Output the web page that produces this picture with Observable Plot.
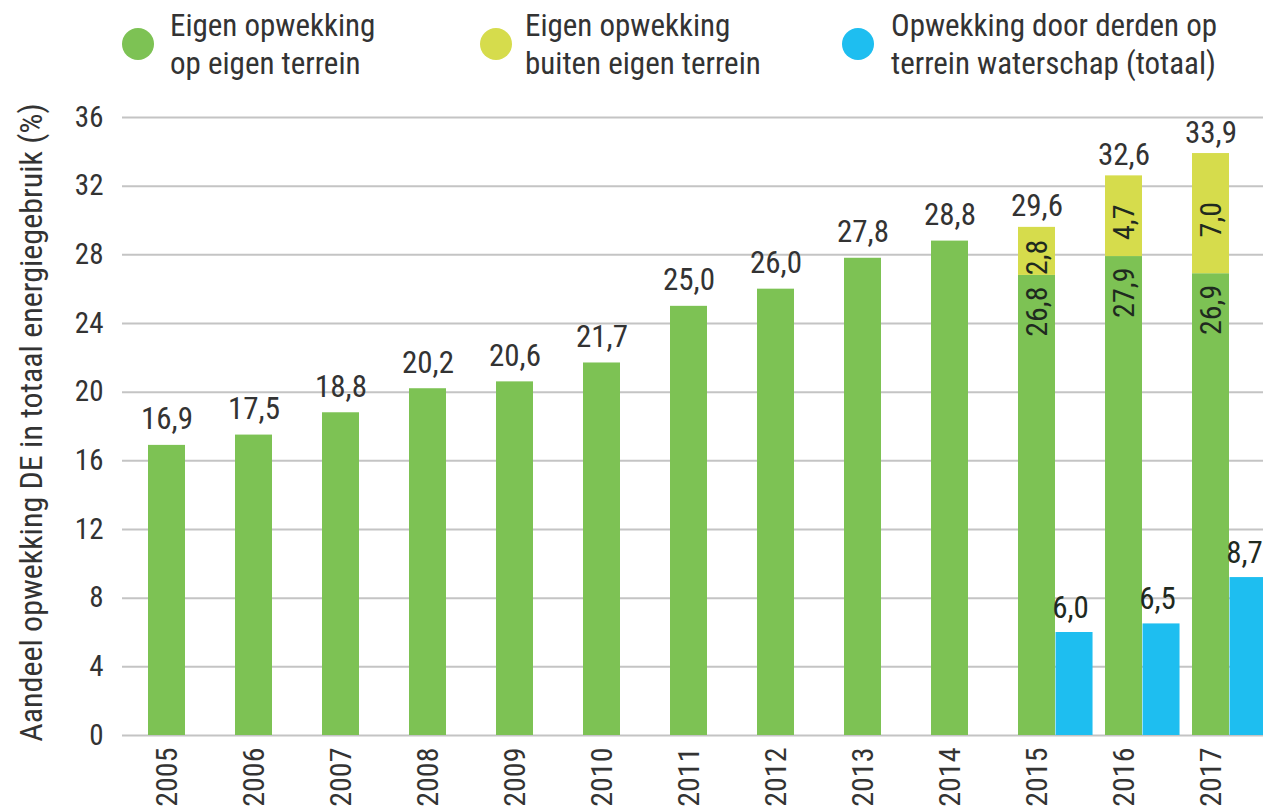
<!DOCTYPE html>
<html><head><meta charset="utf-8">
<script src="https://cdn.jsdelivr.net/npm/d3@7"></script>
<script src="https://cdn.jsdelivr.net/npm/@observablehq/plot@0.6"></script>
<style>
body{margin:0;background:#fff;font-family:"Roboto Condensed","Roboto",sans-serif;color:#333;}
#legend{position:relative;height:95px;width:1263px;}
.dot{position:absolute;width:32px;height:32px;border-radius:50%;}
.lbl{position:absolute;font-size:31px;line-height:38px;white-space:nowrap;}
#chart svg{display:block;overflow:visible;}
</style></head>
<body>
<div id="legend"></div>
<div id="chart"></div>
<script>
// ---- data ----
const years = ["2005","2006","2007","2008","2009","2010","2011","2012","2013","2014","2015","2016","2017"];
const eigenTerrein = [16.9,17.5,18.8,20.2,20.6,21.7,25.0,26.0,27.8,28.8,26.8,27.9,26.9];
const buitenTerrein = [null,null,null,null,null,null,null,null,null,null,2.8,4.7,7.0];
// bar heights as drawn in the picture (2017 bar is drawn taller than its "8,7" label)
const derden = [null,null,null,null,null,null,null,null,null,null,6.0,6.5,9.2];
const derdenLabels = ["","","","","","","","","","","6,0","6,5","8,7"];
const seriesNames = ["Eigen opwekking op eigen terrein","Eigen opwekking buiten eigen terrein","Opwekking door derden op terrein waterschap (totaal)"];
const legendLines = [["Eigen opwekking","op eigen terrein"],["Eigen opwekking","buiten eigen terrein"],["Opwekking door derden op","terrein waterschap (totaal)"]];
const seriesColors = ["#7dc254","#d6dc4c","#1ebef0"];
const yTicks = [0,4,8,12,16,20,24,28,32,36];
const yTitle = "Aandeel opwekking DE in totaal energiegebruik (%)";

// ---- legend ----
const legendPos = [{dot:138,text:170},{dot:496,text:525},{dot:858,text:891}];
const leg = document.getElementById("legend");
seriesNames.forEach((s,i)=>{
  const d=document.createElement("div");d.className="dot";
  d.style.left=(legendPos[i].dot-16)+"px";d.style.top="28px";d.style.background=seriesColors[i];
  leg.appendChild(d);
  const t=document.createElement("div");t.className="lbl";
  t.style.left=legendPos[i].text+"px";t.style.top="7px";
  t.innerHTML=legendLines[i].join("<br>");
  leg.appendChild(t);
});

// ---- tables ----
const fmt = v => v.toFixed(1).replace(".", ",");
const stackRows = [];
years.forEach((yr,i)=>{
  stackRows.push({year:yr, series:seriesNames[0], value:eigenTerrein[i]});
  if (buitenTerrein[i]!=null) stackRows.push({year:yr, series:seriesNames[1], value:buitenTerrein[i]});
});
const derdenRows = years.map((yr,i)=>({year:yr, series:seriesNames[2], value:derden[i], label:derdenLabels[i]})).filter(d=>d.value!=null);
const totalRows = years.map((yr,i)=>{const t=eigenTerrein[i]+(buitenTerrein[i]||0);return {year:yr,total:t,label:fmt(t),split:buitenTerrein[i]!=null};});
const greenInner = years.map((yr,i)=>({year:yr,value:eigenTerrein[i],label:fmt(eigenTerrein[i])})).filter((d,i)=>buitenTerrein[i]!=null);
const yellowInner = years.map((yr,i)=>({year:yr,mid:eigenTerrein[i]+(buitenTerrein[i]||0)/2,label:buitenTerrein[i]!=null?fmt(buitenTerrein[i]):""})).filter((d,i)=>buitenTerrein[i]!=null);

const W=1263, mL=122, mR=0, pI=0.57, pO=0.32;
const step=(W-mL-mR)/(years.length-pI+2*pO);
const bw=step*(1-pI);

const chart = Plot.plot({
  width:W, height:717, marginTop:22, marginBottom:77, marginLeft:mL, marginRight:mR,
  style:{fontFamily:"'Roboto Condensed', Roboto, sans-serif", fontSize:"30px", color:"#333", background:"transparent", overflow:"visible"},
  x:{type:"band", domain:years, paddingInner:pI, paddingOuter:pO, align:0.44},
  y:{domain:[0,36]},
  color:{domain:seriesNames, range:seriesColors},
  marks:[
    Plot.ruleY(yTicks,{stroke:"#c4c4c4", strokeWidth:2}),
    Plot.barY(stackRows,{x:"year", y:"value", fill:"series"}),
    Plot.barY(derdenRows,{x:"year", y:"value", fill:"series", dx:bw}),
    Plot.axisY({ticks:yTicks, tickSize:0, tickPadding:19, label:null, fontSize:29}),
    Plot.axisX({tickSize:0, tickPadding:12, tickRotate:-90, label:null, fontSize:30}),
    Plot.text(totalRows.filter(d=>!d.split),{x:"year", y:"total", text:"label", dy:-16, lineAnchor:"bottom", fontSize:31, fill:"#333"}),
    Plot.text(totalRows.filter(d=>d.split),{x:"year", y:"total", text:"label", dy:-11, lineAnchor:"bottom", fontSize:31, fill:"#333"}),
    Plot.text(greenInner,{x:"year", y:"value", text:"label", rotate:-90, textAnchor:"end", dy:11, fontSize:30, fill:"#1f2a1f"}),
    Plot.text(yellowInner,{x:"year", y:"mid", text:"label", rotate:-90, textAnchor:"middle", dy:6, fontSize:30, fill:"#1f2a1f"}),
    Plot.text(derdenRows,{x:"year", y:"value", text:"label", dx:bw-4, dy:-15, lineAnchor:"bottom", fontSize:31, fill:"#1f2a1f"}),
    Plot.text([yTitle],{frameAnchor:"left", rotate:-90, dx:-91, dy:-4, textAnchor:"middle", lineAnchor:"middle", fontSize:32, fill:"#333"})
  ]
});
document.getElementById("chart").appendChild(chart);
</script>
</body></html>
